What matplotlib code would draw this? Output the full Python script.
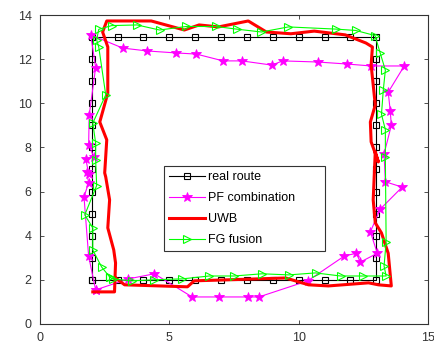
import matplotlib
matplotlib.use('Agg')
import matplotlib.pyplot as plt

# real route (square loop)
real_x = [2, 2, 2, 2, 2, 2, 2, 2, 2, 2, 2, 2,
          3, 4, 5, 6, 7, 8, 9, 10, 11, 12, 13,
          13, 13, 13, 13, 13, 13, 13, 13, 13, 13, 13,
          12, 11, 10, 9, 8, 7, 6, 5, 4, 3, 2]
real_y = [2, 3, 4, 5, 6, 7, 8, 9, 10, 11, 12, 13,
          13, 13, 13, 13, 13, 13, 13, 13, 13, 13, 13,
          12, 11, 10, 9, 8, 7, 6, 5, 4, 3, 2,
          2, 2, 2, 2, 2, 2, 2, 2, 2, 2, 2]

# PF combination
pf_x = [2.15, 1.88, 1.70, 1.88, 1.80, 1.88, 1.77, 2.08, 1.88, 1.90, 2.15, 1.96,
        3.20, 4.15, 5.27, 6.04, 7.08, 7.80, 8.96, 9.38, 10.73, 11.85, 12.80, 14.08,
        13.46, 13.54, 13.58, 13.30, 13.35, 14.00, 13.15, 12.77, 13.04, 12.38, 12.23,
        11.77, 10.35, 8.46, 8.04, 6.92, 5.88, 4.42, 3.42, 2.15]
pf_y = [1.54, 3.06, 5.76, 6.40, 6.88, 6.80, 7.48, 7.57, 8.12, 9.45, 11.62, 13.10,
        12.50, 12.37, 12.28, 12.23, 11.92, 11.92, 11.73, 11.92, 11.87, 11.78, 11.69, 11.69,
        10.50, 9.65, 9.00, 7.70, 6.44, 6.20, 5.20, 4.17, 3.20, 2.80, 3.20,
        3.08, 1.95, 1.22, 1.22, 1.22, 1.22, 2.27, 2.04, 1.54]

# UWB
uwb_x = [2.04, 2.88, 2.90, 3.27, 5.70, 5.96, 9.50, 10.38, 11.15, 12.70, 13.08, 13.58,
         13.46, 13.20, 12.96, 12.88, 12.96, 13.08, 12.80, 12.77, 12.96, 12.80, 12.85,
         12.60, 11.80, 10.60, 9.70, 8.75, 8.05, 6.90, 6.15, 5.58, 4.30, 2.58,
         2.42, 2.62, 2.62, 2.31, 2.58, 2.50, 2.54, 2.69, 2.62, 2.85, 2.92, 2.90]
uwb_y = [1.45, 1.45, 2.10, 1.77, 1.68, 1.95, 2.08, 1.77, 1.72, 1.86, 1.77, 1.72,
         3.20, 4.12, 4.58, 5.62, 7.80, 7.34, 8.25, 9.15, 9.92, 11.74, 12.55,
         12.73, 13.10, 13.27, 13.15, 13.23, 13.73, 13.46, 13.55, 13.32, 13.73, 13.73,
         13.23, 12.55, 10.46, 9.15, 8.34, 6.84, 6.66, 5.62, 4.35, 3.35, 2.76, 2.10]

# FG fusion
fg_x = [2.69, 2.38, 2.04, 2.04, 1.73, 2.19, 2.15, 2.15, 2.04, 2.54, 2.27, 2.19,
        2.27, 2.77, 3.75, 4.62, 5.65, 6.80, 7.60, 8.56, 9.60, 11.46, 12.20, 12.95,
        13.15, 13.35, 13.27, 13.20, 13.35, 13.35, 13.38, 13.30, 13.38,
        12.50, 11.62, 10.65, 9.62, 8.58, 7.50, 6.54, 5.50, 4.42, 3.54, 2.81, 2.69]
fg_y = [2.13, 2.58, 3.35, 4.35, 4.94, 6.27, 7.43, 8.20, 9.10, 10.38, 12.55, 12.87,
        13.35, 13.52, 13.55, 13.32, 13.48, 13.48, 13.36, 13.23, 13.46, 13.36, 13.30, 13.07,
        12.28, 11.50, 10.60, 9.50, 8.80, 7.55, 3.72, 2.62, 2.17,
        2.17, 2.17, 2.31, 2.22, 2.27, 2.17, 2.17, 2.04, 2.00, 1.95, 2.04, 2.13]

plt.rcParams['font.family'] = ['Liberation Sans', 'DejaVu Sans']

fig = plt.figure(figsize=(4.35, 3.49), dpi=100)
ax = fig.add_axes([0.092, 0.072, 0.892, 0.885])

ax.plot(real_x, real_y, color='black', lw=0.8, marker='s', ms=4,
        mfc='none', mew=0.8, label='real route')
ax.plot(pf_x, pf_y, color='#FF00FF', lw=0.8, marker='*', ms=7,
        mew=0.6, label='PF combination')
ax.plot(uwb_x, uwb_y, color='#FF0000', lw=2.2, label='UWB')
ax.plot(fg_x, fg_y, color='#00FF00', lw=0.8, marker='>', ms=6,
        mfc='none', mew=0.8, label='FG fusion')

ax.set_xlim(0, 15)
ax.set_ylim(0, 14)
ax.set_xticks([0, 5, 10, 15])
ax.set_yticks([0, 2, 4, 6, 8, 10, 12, 14])
ax.tick_params(direction='in', top=True, right=True, labelsize=9, pad=6,
               length=3, width=0.6, colors='#333333', labelcolor='#333333')
for s in ax.spines.values():
    s.set_linewidth(0.8)
    s.set_color('#333333')

leg = ax.legend(loc='upper left', bbox_to_anchor=(0.32, 0.51), borderaxespad=0,
                fontsize=9, handlelength=2.9, handletextpad=0.2,
                labelspacing=0.72, fancybox=False, framealpha=1,
                edgecolor='#333333', borderpad=0.4)
leg.get_frame().set_linewidth(0.8)
for t in leg.get_texts():
    t.set_text(t.get_text() + ' ' * 7)

fig.savefig('out.png', dpi=100)
